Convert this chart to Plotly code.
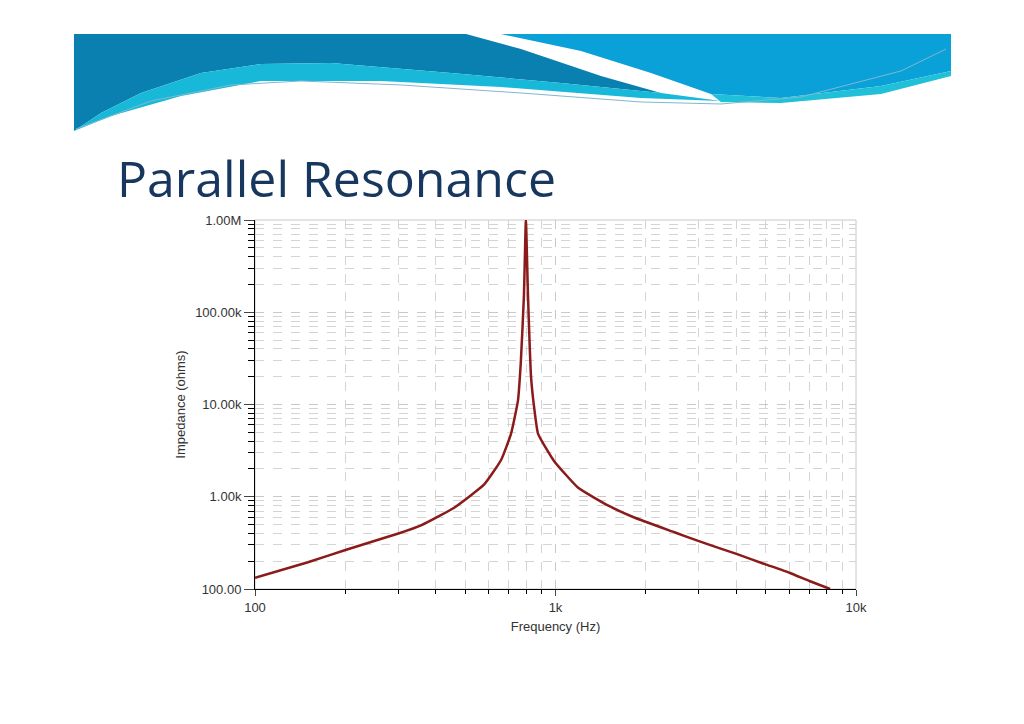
import plotly.graph_objects as go

# impedance curve
freq_hz = [100, 150, 200, 300, 357, 460, 578, 659, 711, 750, 767, 785, 797,
           810, 829, 850, 875, 990, 1190, 1500, 1820, 2500, 3000, 4000, 5000,
           6000, 7000, 8200]
impedance_ohms = [132, 195, 265, 400, 490, 760, 1350, 2500, 4800, 11000, 29500,
                  150000, 1000000, 150000, 20000, 9000, 4800, 2430, 1250, 800,
                  600, 410, 330, 240, 185, 150, 122, 100]

y_tick_vals = [100, 1000, 10000, 100000, 1000000]
y_tick_text = ['100.00', '1.00k', '10.00k', '100.00k', '1.00M']
x_tick_vals = [100, 1000, 10000]
x_tick_text = ['100', '1k', '10k']
x_minor_vals = [m * d for d in (100, 1000) for m in range(2, 10)]
y_minor_vals = [m * d for d in (100, 1000, 10000, 100000) for m in range(2, 10)]

OFF = 7
W, H = 1024 - 2 * OFF, 724 - 2 * OFF
L, R, T, B = 254, 855, 219, 588


def px(x):
    return (x - L) / (R - L)


def py(y):
    return (B - y) / (B - T)


def path(points, close=True):
    s = 'M ' + ' L '.join(f'{px(a):.4f},{py(b):.4f}' for a, b in points)
    return s + ' Z' if close else s


fig = go.Figure()
fig.add_trace(go.Scatter(x=freq_hz, y=impedance_ohms, mode='lines',
                         line=dict(color='#8B1A1A', width=2.5, shape='spline', smoothing=0.4),
                         showlegend=False))

axis_font = dict(family='Liberation Sans', size=13, color='#333333')
grid = dict(showgrid=True, gridcolor='#C8C8C8', griddash='dash', gridwidth=1)
fig.update_xaxes(type='log', range=[2, 4], tickvals=x_tick_vals, ticktext=x_tick_text,
                 showline=True, linecolor='black', ticks='outside', ticklen=6,
                 tickfont=axis_font, title=dict(text='Frequency (Hz)', font=axis_font, standoff=8),
                 minor=dict(tickvals=x_minor_vals, showgrid=True, gridcolor='#D4D4D4',
                            griddash='dash', ticks='outside', ticklen=4, tickcolor='black'),
                 **grid)
fig.update_yaxes(type='log', range=[2, 6], tickvals=y_tick_vals, ticktext=y_tick_text,
                 showline=True, linecolor='black', ticks='outside', ticklen=10,
                 tickfont=axis_font, title=dict(text='Impedance (ohms)', font=axis_font, standoff=6),
                 minor=dict(tickvals=y_minor_vals, showgrid=True, gridcolor='#D4D4D4',
                            griddash='dash', ticks='outside', ticklen=6, tickcolor='black'),
                 **grid)

shapes = [
    dict(type='rect', xref='paper', yref='paper', x0=0, y0=0, x1=1, y1=1,
         line=dict(color='#C8C8C8', width=1), layer='below'),
    dict(type='path', xref='paper', yref='paper', layer='above', line=dict(width=0),
         fillcolor='#0A80B0',
         path=path([(73, 33), (465, 33), (520, 48), (600, 75), (660, 92), (560, 82),
                    (450, 72), (330, 62), (260, 63), (200, 72), (140, 92), (100, 112), (73, 130)])),
    dict(type='path', xref='paper', yref='paper', layer='above', line=dict(width=0),
         fillcolor='#18B8D8',
         path=path([(73, 130), (100, 112), (140, 92), (200, 72), (260, 63), (330, 62),
                    (450, 72), (560, 82), (660, 92), (720, 100), (640, 97), (500, 86),
                    (380, 80), (260, 80), (180, 95), (110, 115)])),
    dict(type='path', xref='paper', yref='paper', layer='above', line=dict(width=0),
         fillcolor='#0AA0D8',
         path=path([(500, 33), (950, 33), (950, 70), (880, 85), (780, 97), (710, 93),
                    (650, 72), (580, 50)])),
    dict(type='path', xref='paper', yref='paper', layer='above', line=dict(width=0),
         fillcolor='#20C0D8',
         path=path([(710, 93), (780, 97), (880, 85), (950, 70), (950, 75), (880, 93),
                    (780, 102), (720, 101)])),
    dict(type='path', xref='paper', yref='paper', layer='above',
         line=dict(color='#7FB8D0', width=1),
         path=path([(75, 128), (150, 100), (230, 84), (300, 80), (400, 84),
                    (520, 92), (640, 101), (720, 103), (800, 96), (900, 70), (945, 48)],
                   close=False)),
]

fig.update_layout(
    width=W, height=H,
    margin=dict(l=L - OFF, r=1024 - R - OFF, t=T - OFF, b=724 - B - OFF),
    paper_bgcolor='white', plot_bgcolor='white',
    shapes=shapes,
    annotations=[dict(text='Parallel Resonance', xref='paper', yref='paper',
                      x=px(114), y=py(177), xanchor='left', yanchor='middle',
                      showarrow=False,
                      font=dict(family='Open Sans', size=50, color='#17375E'))],
)

fig.write_html('out.html')
